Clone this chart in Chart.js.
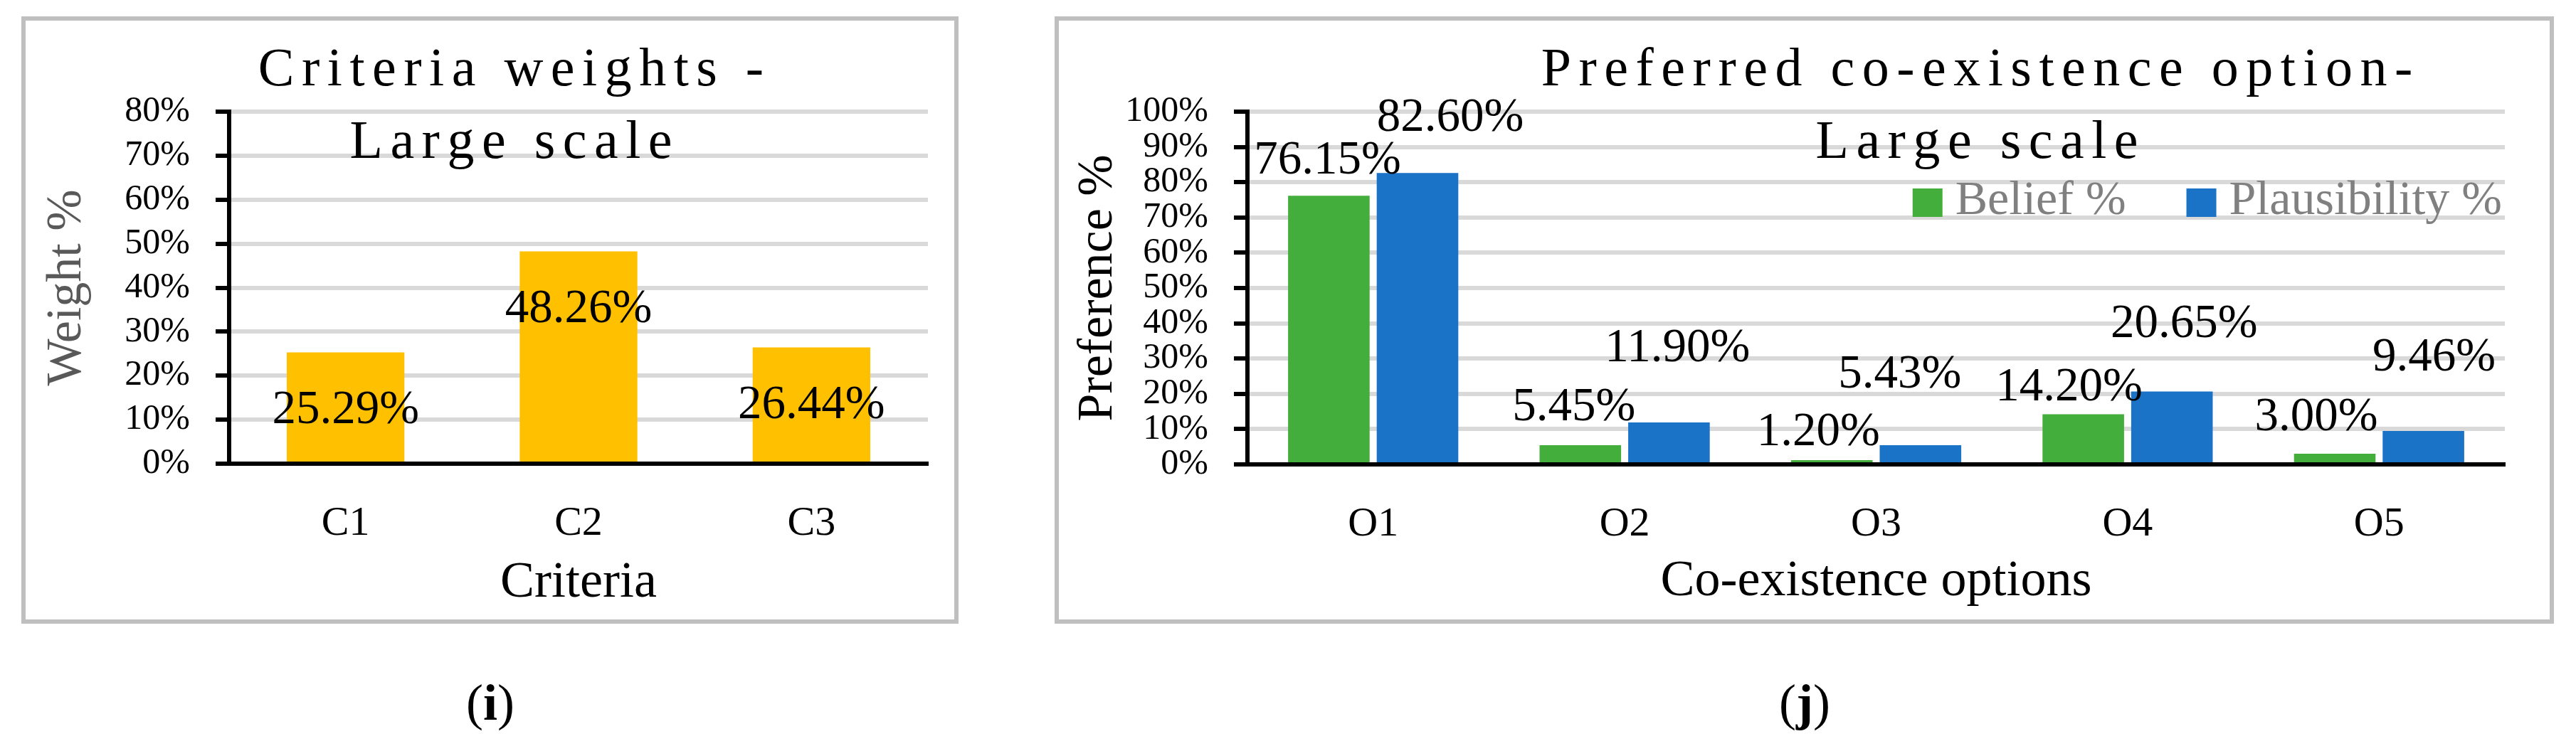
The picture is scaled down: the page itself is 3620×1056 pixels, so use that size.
<!DOCTYPE html>
<html><head><meta charset="utf-8">
<script src="https://cdn.jsdelivr.net/npm/chart.js@4.4.1/dist/chart.umd.min.js"></script>
<style>
html,body{margin:0;padding:0;background:#fff;width:3620px;height:1056px;overflow:hidden;}
.box{position:absolute;box-sizing:border-box;border:6px solid #bfbfbf;background:#fff;}
.box canvas{display:block;}
.cap{position:absolute;font-family:'Liberation Serif',serif;font-size:72px;line-height:72px;color:#000;white-space:nowrap;transform:translateX(-50%);}
</style></head>
<body>
<div class="box" style="left:30px;top:23px;width:1317px;height:854px;"><canvas id="c1" width="1305" height="842"></canvas></div>
<div class="box" style="left:1482px;top:23px;width:2107px;height:854px;"><canvas id="c2" width="2095" height="842"></canvas></div>
<div class="cap" style="left:689px;top:952px;">(<b>i</b>)</div>
<div class="cap" style="left:2536px;top:952px;">(<b>j</b>)</div>
<script>
// ---- data ----
const criteria = ['C1', 'C2', 'C3'];
const weights = [25.29, 48.26, 26.44];
const optionLabels = ['O1', 'O2', 'O3', 'O4', 'O5'];
const belief = [76.15, 5.45, 1.20, 14.20, 3.00];
const plausibility = [82.60, 11.90, 5.43, 20.65, 9.46];
const seriesNames = ['Belief %', 'Plausibility %'];
const title1 = ['Criteria weights -', 'Large scale'];
const title2 = ['Preferred co-existence option-', 'Large scale'];

const F = "'Liberation Serif', 'Times New Roman', serif";

function barLabels(cfg) {
  return {
    id: 'barLabels',
    afterDatasetsDraw(chart) {
      const ctx = chart.ctx;
      ctx.save();
      ctx.font = cfg.font;
      ctx.fillStyle = cfg.color;
      ctx.textAlign = 'center';
      ctx.textBaseline = 'middle';
      chart.data.datasets.forEach((ds, di) => {
        const meta = chart.getDatasetMeta(di);
        meta.data.forEach((el, i) => {
          const off = (cfg.offsets && cfg.offsets[di] && cfg.offsets[di][i]) || cfg.offset;
          ctx.fillText(ds.data[i].toFixed(2) + '%', el.x + off[0], el.y + off[1]);
        });
      });
      ctx.restore();
    }
  };
}

function spacedTitle(cfg) {
  return {
    id: 'spacedTitle',
    afterDraw(chart) {
      const ctx = chart.ctx;
      ctx.save();
      ctx.font = cfg.font;
      ctx.fillStyle = cfg.color;
      ctx.textAlign = 'left';
      ctx.textBaseline = 'alphabetic';
      cfg.lines.forEach((line, k) => {
        const chars = Array.from(line);
        const widths = chars.map(c => ctx.measureText(c).width);
        const total = widths.reduce((a, b) => a + b, 0) + cfg.spacing * (chars.length - 1);
        let x = cfg.x - total / 2;
        const y = cfg.y + k * cfg.lineGap;
        chars.forEach((c, j) => { ctx.fillText(c, x, y); x += widths[j] + cfg.spacing; });
      });
      ctx.restore();
    }
  };
}

// legend drawn inside the plot area, right-aligned, from the datasets' labels and colours
function insideLegend(cfg) {
  return {
    id: 'insideLegend',
    afterDraw(chart) {
      const ctx = chart.ctx;
      const area = chart.chartArea;
      ctx.save();
      ctx.font = cfg.font;
      ctx.textBaseline = 'middle';
      ctx.textAlign = 'left';
      const items = chart.data.datasets.map(ds => ({ text: ds.label, color: ds.backgroundColor, w: ctx.measureText(ds.label).width }));
      let total = 0;
      items.forEach((it, i) => { total += cfg.box + cfg.gap + it.w + (i < items.length - 1 ? cfg.itemGap : 0); });
      let x = area.right - cfg.rightGap - total;
      const yMid = area.top + cfg.midOffset;
      items.forEach(it => {
        ctx.fillStyle = it.color;
        ctx.fillRect(x, yMid - cfg.boxH / 2 + 2, cfg.box, cfg.boxH);
        ctx.fillStyle = cfg.color;
        ctx.fillText(it.text, x + cfg.box + cfg.gap, yMid);
        x += cfg.box + cfg.gap + it.w + cfg.itemGap;
      });
      ctx.restore();
    }
  };
}

function yScale(max, title, titleColor, width) {
  return {
    min: 0, max: max,
    ticks: { stepSize: 10, autoSkip: false, maxTicksLimit: 20, callback: v => v + '%', font: { family: F, size: 50, lineHeight: 0.8 }, color: '#000', padding: 36 },
    grid: { color: '#d9d9d9', lineWidth: 6, drawTicks: true, tickLength: 19, tickColor: '#000', tickWidth: 6 },
    border: { display: true, color: '#000', width: 6 },
    title: { display: true, text: title, font: { family: F, size: 70, lineHeight: 1 }, color: titleColor, padding: 0 },
    afterFit: s => { s.width = width; }
  };
}
function xScale(title, height) {
  return {
    grid: { display: false, drawTicks: false },
    border: { display: true, color: '#000', width: 6 },
    ticks: { font: { family: F, size: 58, lineHeight: 1.2 }, color: '#000', padding: 50, maxRotation: 0 },
    title: { display: true, text: title, font: { family: F, size: 72, lineHeight: 1 }, color: '#000', padding: 0 },
    afterFit: s => { s.height = height; }
  };
}

new Chart(document.getElementById('c1'), {
  type: 'bar',
  data: {
    labels: criteria,
    datasets: [{ label: 'Weight', data: weights, backgroundColor: '#FFC000', borderWidth: 0, barPercentage: 0.505, categoryPercentage: 1 }]
  },
  options: {
    responsive: false, animation: false, events: [],
    layout: { padding: { left: 24, right: 37, top: 128, bottom: 15 } },
    plugins: { legend: { display: false }, title: { display: false }, tooltip: { enabled: false } },
    scales: { x: xScale('Criteria', 204), y: yScale(80, 'Weight %', '#595959', 262) }
  },
  plugins: [
    barLabels({ font: '67px ' + F, color: '#000', offset: [0, 82] }),
    spacedTitle({ font: '76px ' + F, color: '#000', lines: title1, x: 682, y: 91, lineGap: 102, spacing: 10.5 })
  ]
});

new Chart(document.getElementById('c2'), {
  type: 'bar',
  data: {
    labels: optionLabels,
    datasets: [
      { label: seriesNames[0], data: belief, backgroundColor: '#44AE3C', borderWidth: 0, barPercentage: 0.92, categoryPercentage: 0.705 },
      { label: seriesNames[1], data: plausibility, backgroundColor: '#1B73C8', borderWidth: 0, barPercentage: 0.92, categoryPercentage: 0.705 }
    ]
  },
  options: {
    responsive: false, animation: false, events: [],
    layout: { padding: { left: 21, right: 63, top: 128, bottom: 17 } },
    plugins: { legend: { display: false }, title: { display: false }, tooltip: { enabled: false } },
    scales: { x: xScale('Co-existence options', 201), y: yScale(100, 'Preference %', '#000', 244) }
  },
  plugins: [
    barLabels({ font: '67px ' + F, color: '#000', offset: [0, -60],
      offsets: [
        [[-2, -49], [-9, -53], [-19, -39], [-20, -37], [-26, -51]],
        [[46, -77], [12, -104], [-29, -99], [17, -94], [15, -103]]
      ] }),
    spacedTitle({ font: '76px ' + F, color: '#000', lines: title2, x: 1290, y: 91, lineGap: 102, spacing: 10.5 }),
    insideLegend({ font: '68px ' + F, color: '#808080', box: 42, boxH: 40, gap: 18, itemGap: 85, rightGap: 4, midOffset: 126 })
  ]
});
</script>
</body></html>
